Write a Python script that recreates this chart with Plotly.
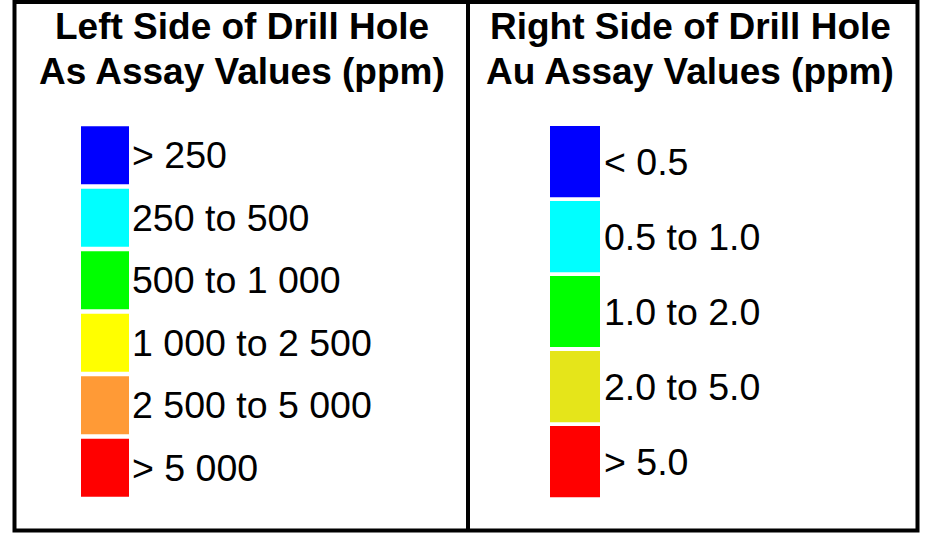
import plotly.graph_objects as go

W, H = 931, 540

# ---- data ----
left_title = ["Left Side of Drill Hole", "As Assay Values (ppm)"]
left_labels = ["> 250", "250 to 500", "500 to 1 000", "1 000 to 2 500", "2 500 to 5 000", "> 5 000"]
left_colors = ["#0000FF", "#00FFFF", "#00FF00", "#FFFF00", "#FF9A36", "#FF0000"]
left_values = [1, 1, 1, 1, 1, 1]

right_title = ["Right Side of Drill Hole", "Au Assay Values (ppm)"]
right_labels = ["< 0.5", "0.5 to 1.0", "1.0 to 2.0", "2.0 to 5.0", "> 5.0"]
right_colors = ["#0000FF", "#00FFFF", "#00FF00", "#E5E51A", "#FF0000"]
right_values = [1, 1, 1, 1, 1]

FONT = "Liberation Sans, Arial, Helvetica, sans-serif"


def px(x):
    return x / W


def py(y):
    return 1 - y / H


fig = go.Figure()
fig.add_trace(go.Bar(x=left_values, y=left_labels, orientation="h", width=0.93,
                     marker=dict(color=left_colors, line=dict(width=0)),
                     xaxis="x", yaxis="y", showlegend=False, hoverinfo="skip"))
fig.add_trace(go.Bar(x=right_values, y=right_labels, orientation="h", width=0.95,
                     marker=dict(color=right_colors, line=dict(width=0)),
                     xaxis="x2", yaxis="y2", showlegend=False, hoverinfo="skip"))

ydom = [py(499), py(124)]
axis_common = dict(showgrid=False, zeroline=False, showline=False, ticks="",
                   fixedrange=True)
fig.update_layout(
    width=W, height=H,
    margin=dict(l=0, r=0, t=0, b=0),
    paper_bgcolor="white", plot_bgcolor="white",
    font=dict(family=FONT, color="black"),
    xaxis=dict(domain=[px(81), px(129)], range=[0, 1], showticklabels=False, **axis_common),
    xaxis2=dict(domain=[px(550), px(600)], range=[0, 1], showticklabels=False, **axis_common),
    yaxis=dict(domain=ydom, anchor="x", side="right", type="category",
               categoryorder="array", categoryarray=left_labels, autorange="reversed",
               tickfont=dict(size=37.5, family=FONT, color="black"), ticklabelstandoff=2,
               **axis_common),
    yaxis2=dict(domain=ydom, anchor="x2", side="right", type="category",
                categoryorder="array", categoryarray=right_labels, autorange="reversed",
                tickfont=dict(size=37.5, family=FONT, color="black"), ticklabelstandoff=3,
                **axis_common),
)

# borders
line = dict(color="black", width=4)
fig.add_shape(type="rect", xref="paper", yref="paper",
              x0=px(14.5), x1=px(917.5), y0=py(2), y1=py(530.5), line=line)
fig.add_shape(type="line", xref="paper", yref="paper",
              x0=px(468), x1=px(468), y0=py(2), y1=py(530.5), line=line)

# titles
for cx, lines in ((241.5, left_title), (690, right_title)):
    for yy, t in zip((26, 72), lines):
        fig.add_annotation(x=px(cx), y=py(yy), xref="paper", yref="paper",
                           text="<b>%s</b>" % t, showarrow=False,
                           xanchor="center", yanchor="middle",
                           font=dict(size=37, family=FONT, color="black"))

fig.write_html("out.html", config={"displayModeBar": False},
               post_script="document.body.style.margin='0';document.body.style.padding='0';")
